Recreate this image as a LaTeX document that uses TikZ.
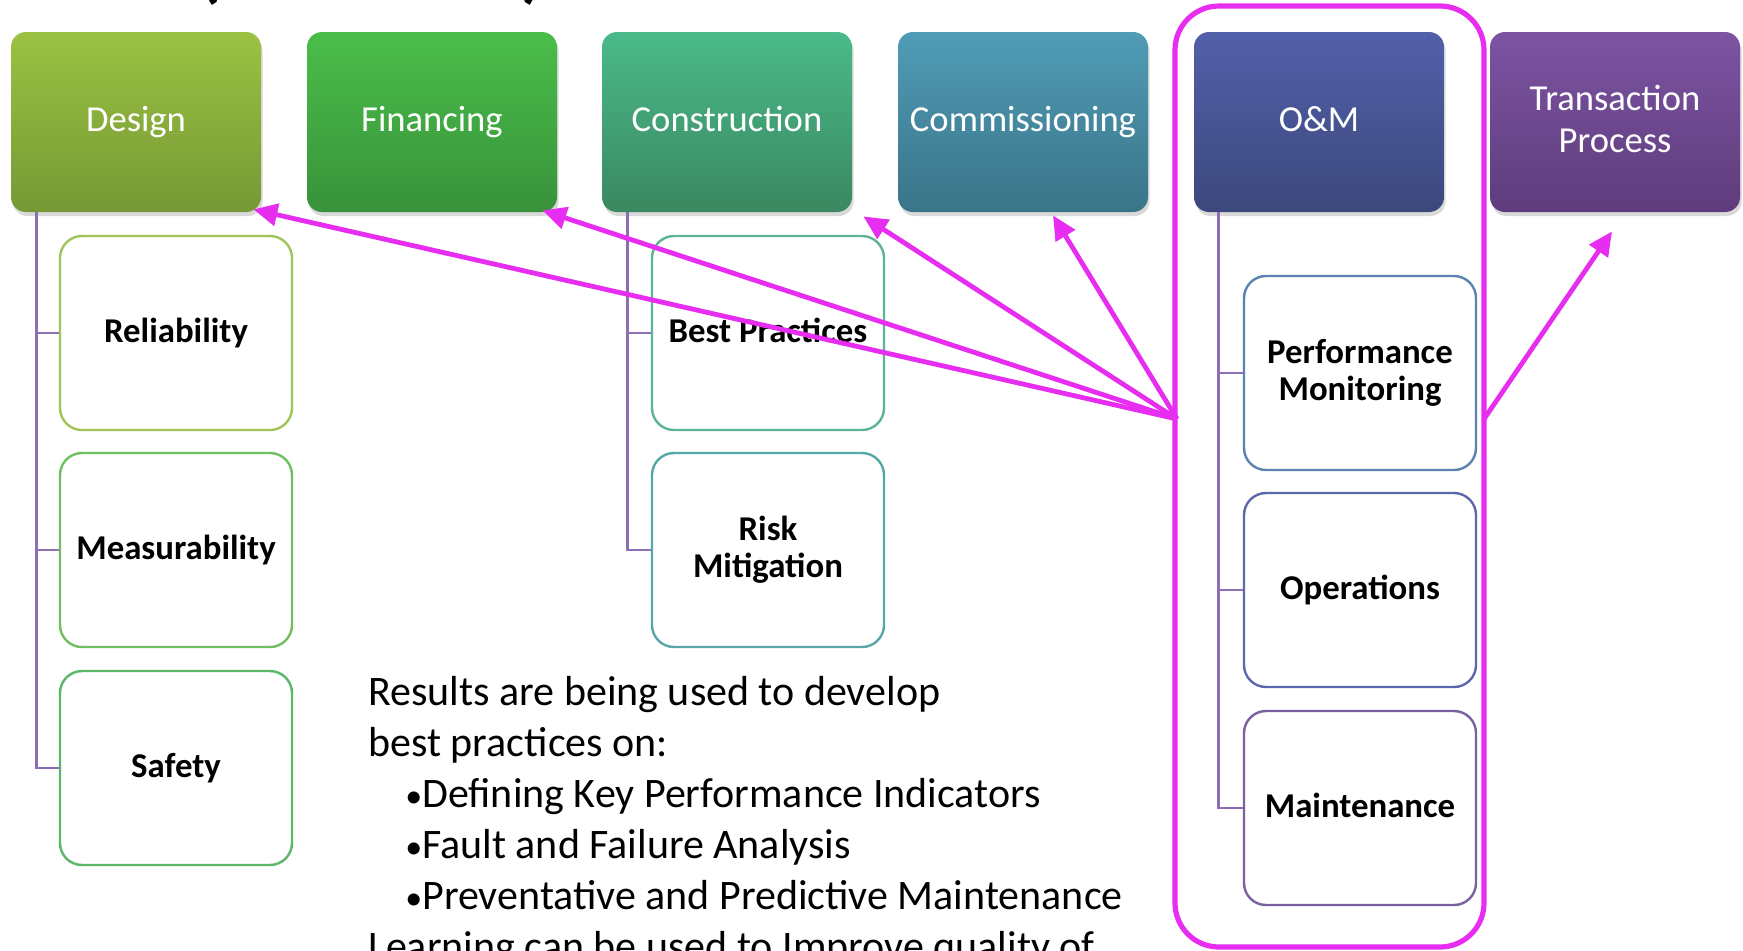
\documentclass[tikz,border=0pt]{standalone}
\usepackage{fontspec}
\setmainfont{Carlito}
\usetikzlibrary{arrows.meta,calc,shadows}

\definecolor{designTop}{RGB}{155,194,67}
\definecolor{designBot}{RGB}{118,152,52}
\definecolor{finTop}{RGB}{74,190,74}
\definecolor{finBot}{RGB}{56,146,58}
\definecolor{consTop}{RGB}{74,186,138}
\definecolor{consBot}{RGB}{58,136,96}
\definecolor{commTop}{RGB}{80,156,182}
\definecolor{commBot}{RGB}{58,116,136}
\definecolor{omTop}{RGB}{82,96,170}
\definecolor{omBot}{RGB}{60,72,124}
\definecolor{transTop}{RGB}{124,84,162}
\definecolor{transBot}{RGB}{94,60,124}
\definecolor{relColor}{RGB}{160,196,92}
\definecolor{measColor}{RGB}{112,190,98}
\definecolor{safeColor}{RGB}{92,184,104}
\definecolor{bestColor}{RGB}{92,180,148}
\definecolor{riskColor}{RGB}{86,166,170}
\definecolor{perfColor}{RGB}{90,130,178}
\definecolor{operColor}{RGB}{92,104,172}
\definecolor{maintColor}{RGB}{124,96,164}
\definecolor{hotpink}{RGB}{230,45,240}
\definecolor{treeline}{RGB}{140,110,180}

\tikzset{
  phase/.style={rounded corners=7.5pt, minimum width=125pt, minimum height=90pt, inner sep=2pt,
    align=center, text=white, font=\fontsize{18.3}{20.6}\selectfont,
    execute at begin node=\vphantom{Ag}, execute at end node=\vphantom{Ag},
    drop shadow={shadow xshift=0.8pt, shadow yshift=-2pt, opacity=0.3}},
  item/.style={draw=#1, line width=1.2pt, rounded corners=11pt, fill=white, minimum width=116pt,
    minimum height=97pt, inner sep=2pt, align=center, font=\bfseries\fontsize{17.4}{18.5}\selectfont,
    execute at begin node=\vphantom{Ag}, execute at end node=\vphantom{Ag}},
  branch/.style={draw=treeline, line width=1.2pt},
  pointer/.style={draw=hotpink, fill=hotpink, line width=2.4pt, -{Triangle[length=12pt,width=11pt]}},
  notes/.style={anchor=base west, inner sep=0pt, font=\fontsize{21}{25.5}\selectfont},
}
\newcommand{\dotmark}{{\fontsize{17}{20}\selectfont•}}

\begin{document}
\begin{tikzpicture}[x=0.5pt,y=0.5pt,yscale=-1]
\useasboundingbox (0,0) rectangle (1743,950);

% Text Node (title, cut off)
\node[anchor=base, font=\bfseries\fontsize{36}{40}\selectfont] (titleopen) at (210,-6) {(};
\node[anchor=base, font=\bfseries\fontsize{36}{40}\selectfont] (titleclose) at (533,-6) {)};

%Shape: phase boxes
\node[phase, top color=designTop, bottom color=designBot] (design) at (136,122) {Design};
\node[phase, top color=finTop, bottom color=finBot] (fin) at (432,122) {Financing};
\node[phase, top color=consTop, bottom color=consBot] (cons) at (727,122) {Construction};
\node[phase, top color=commTop, bottom color=commBot] (comm) at (1023,122) {Commissioning};
\node[phase, top color=omTop, bottom color=omBot] (om) at (1319,122) {O\&M};
\node[phase, top color=transTop, bottom color=transBot] (trans) at (1615,122) {Transaction\\Process};

%Shape: O&M frame
\node[draw=hotpink, line width=2.6pt, rounded corners=22pt, outer sep=0pt, inner sep=0pt,
  minimum width=154.5pt, minimum height=470.5pt] (omgroup) at (1329.5,476.5) {};

%Straight Lines: tree branches
\coordinate (dtrunk) at ($(design.south west)+(26,0)$);
\coordinate (ctrunk) at ($(cons.south west)+(26,0)$);
\coordinate (otrunk) at ($(om.south west)+(25,0)$);

%Shape: items
\node[item=relColor] (reliab) at (176,333) {Reliability};
\node[item=measColor] (measur) at (176,550) {Measurability};
\node[item=safeColor] (safety) at (176,768) {Safety};
\node[item=bestColor] (bestpr) at (768,333) {Best Practices};
\node[item=riskColor] (riskmit) at (768,550) {Risk\\Mitigation};
\node[item=perfColor] (perfmon) at (1360,373) {Performance\\Monitoring};
\node[item=operColor] (operat) at (1360,590) {Operations};
\node[item=maintColor] (mainten) at (1360,808) {Maintenance};

\foreach \c in {reliab,measur,safety} \draw[branch] (dtrunk) |- (\c.west);
\foreach \c in {bestpr,riskmit} \draw[branch] (ctrunk) |- (\c.west);
\foreach \c in {perfmon,operat,mainten} \draw[branch] (otrunk) |- (\c.west);

%Straight Lines: pointers
\coordinate (hub) at ($(omgroup.west)+(2,-57.5)$);
\coordinate (hubr) at ($(omgroup.east)+(0,-57.5)$);
\foreach \t/\dx/\dy in {design.south east/-8/-3, fin.south east/-15/-2, cons.south east/11/4, comm.south/30/3}
  \draw[pointer] (hub) -- ($(\t)+(\dx,\dy)$);
\draw[pointer] (hubr) -- ($(trans.south)+(-3,19)$);

% Text Node
\foreach \dx/\txt [count=\i] in {0/Results are being used to develop, 0/best practices on:,
  37/\dotmark Defining Key Performance Indicators, 37/\dotmark Fault and Failure Analysis,
  37/\dotmark Preventative and Predictive Maintenance, 0/Learning can be used to Improve quality of}
  \node[notes] (note\i) at (368+\dx,654+51*\i) {\txt};

\end{tikzpicture}
\end{document}
